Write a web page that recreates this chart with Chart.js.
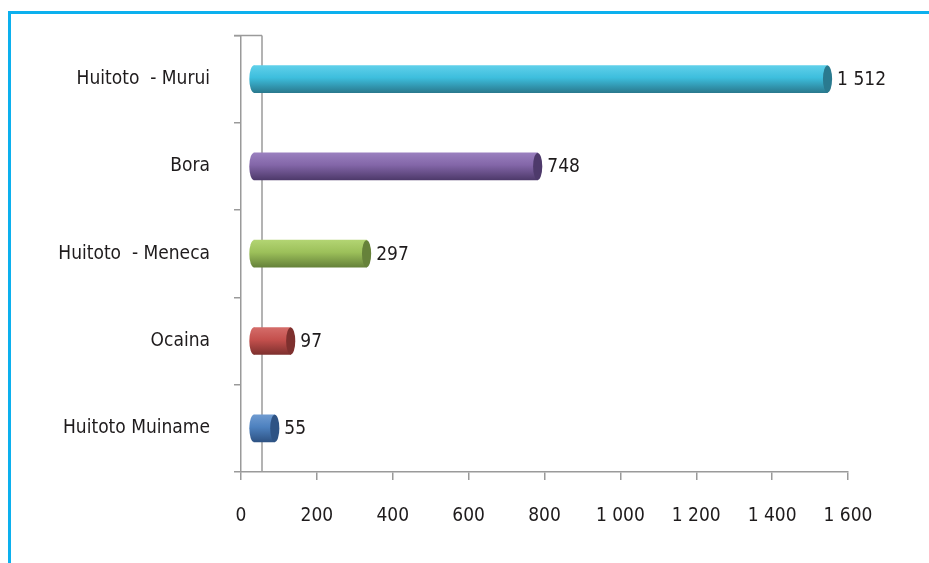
<!DOCTYPE html>
<html>
<head>
<meta charset="utf-8">
<script src="https://cdn.jsdelivr.net/npm/chart.js@4.4.1/dist/chart.umd.min.js"></script>
<style>
  html, body { margin: 0; padding: 0; background: #fff; overflow: hidden; }
  #wrap { position: relative; width: 929px; height: 563px; }
  #frame {
    position: absolute; left: 8px; top: 11px; width: 940px; height: 580px;
    border-top: 3px solid #0cb0ee; border-left: 3px solid #0cb0ee;
    pointer-events: none;
  }
  canvas { position: absolute; left: 0; top: 0; }
</style>
</head>
<body>
<div id="wrap">
  <div id="frame"></div>
  <canvas id="chart"></canvas>
</div>
<script>
// Data
const categories = ['Huitoto  - Murui', 'Bora', 'Huitoto  - Meneca', 'Ocaina', 'Huitoto Muiname'];
const speakers = [1512, 748, 297, 97, 55];
const xTicks = [0, 200, 400, 600, 800, 1000, 1200, 1400, 1600];

// Cylinder colours (light top, base, dark bottom / end cap)
const baseColors = ['#3dbedd', '#8366a8', '#9cc05a', '#c4504d', '#4d81bf'];
const lightColors = ['#5fd0ea', '#9a80bf', '#b2d472', '#d46c69', '#6e9ad0'];
const darkColors = ['#2a7a8f', '#4e3a6b', '#66823a', '#7e302e', '#2e5384'];

const barShift = 34;     // 3-D depth offset of the bars, in axis units
const wallDepth = 21;    // back wall offset in px
const fontFamily = '"DejaVu Sans Condensed", "Liberation Sans", sans-serif';

function spaced(v) {
    return String(v).replace(/\B(?=(\d{3})+(?!\d))/g, ' ');
}

// Back wall and floor edges of the 3-D plot box
const wallPlugin = {
    id: 'wall',
    beforeDatasetsDraw(chart) {
        const { ctx, chartArea } = chart;
        ctx.save();
        ctx.strokeStyle = '#9a9a9a';
        ctx.lineWidth = 1.5;
        ctx.beginPath();
        ctx.moveTo(chartArea.left + wallDepth, chartArea.top);
        ctx.lineTo(chartArea.left + wallDepth, chartArea.bottom);
        ctx.moveTo(chartArea.left - 7, chartArea.top);
        ctx.lineTo(chartArea.left + wallDepth, chartArea.top);
        ctx.stroke();
        ctx.restore();
    }
};

// End caps and value labels for the cylinders
const capPlugin = {
    id: 'caps',
    afterDatasetsDraw(chart) {
        const { ctx } = chart;
        const meta = chart.getDatasetMeta(0);
        ctx.save();
        meta.data.forEach((el, i) => {
            const p = el.getProps(['x', 'y', 'base', 'height'], true);
            const h = p.height;
            const rx = h * 0.17;
            // rounded left end
            const g = ctx.createLinearGradient(0, p.y - h / 2, 0, p.y + h / 2);
            g.addColorStop(0, lightColors[i]);
            g.addColorStop(0.45, baseColors[i]);
            g.addColorStop(1, darkColors[i]);
            ctx.fillStyle = g;
            ctx.beginPath();
            ctx.ellipse(p.base, p.y, rx, h / 2, 0, 0, Math.PI * 2);
            ctx.fill();
            // right end cap
            ctx.fillStyle = darkColors[i];
            ctx.beginPath();
            ctx.ellipse(p.x, p.y, rx, h / 2, 0, 0, Math.PI * 2);
            ctx.fill();
            // value label
            ctx.fillStyle = '#1e1b1c';
            ctx.font = '19px ' + fontFamily;
            ctx.textAlign = 'left';
            ctx.textBaseline = 'middle';
            ctx.fillText(spaced(speakers[i]), p.x + rx + 5, p.y + 1);
        });
        ctx.restore();
    }
};

const ctx = document.getElementById('chart').getContext('2d');
const chart = new Chart(ctx, {
    type: 'bar',
    data: {
        labels: categories,
        datasets: [{
            data: speakers,
            xAxisID: 'xBar',
            yAxisID: 'y',
            barThickness: 27,
            borderWidth: 0,
            backgroundColor: function(context) {
                const c = context.chart;
                const i = context.dataIndex;
                if (!c.chartArea || !c.scales.y) return baseColors[i];
                const yc = c.scales.y.getPixelForValue(i);
                const g = c.ctx.createLinearGradient(0, yc - 13.5, 0, yc + 13.5);
                g.addColorStop(0, lightColors[i]);
                g.addColorStop(0.45, baseColors[i]);
                g.addColorStop(1, darkColors[i]);
                return g;
            }
        }]
    },
    options: {
        indexAxis: 'y',
        responsive: true,
        maintainAspectRatio: false,
        animation: false,
        layout: {
            padding: { top: 35, right: 81, left: 0, bottom: 0 }
        },
        plugins: {
            legend: { display: false },
            tooltip: { enabled: false }
        },
        scales: {
            x: {
                type: 'linear',
                position: 'bottom',
                min: 0,
                max: 1600,
                afterFit(scale) { scale.height = 91; },
                afterBuildTicks(scale) { scale.ticks = xTicks.map(v => ({ value: v })); },
                grid: {
                    drawOnChartArea: false,
                    drawTicks: true,
                    tickLength: 8,
                    color: '#9a9a9a',
                    lineWidth: 1.5
                },
                border: { display: true, color: '#9a9a9a', width: 1.5 },
                ticks: {
                    padding: 25,
                    maxRotation: 0,
                    color: '#1e1b1c',
                    font: { family: fontFamily, size: 19 },
                    callback: v => spaced(v)
                }
            },
            xBar: {
                type: 'linear',
                display: false,
                min: -barShift,
                max: 1600 - barShift
            },
            y: {
                type: 'category',
                afterFit(scale) { scale.width = 241; },
                grid: {
                    drawOnChartArea: false,
                    offset: true,
                    tickLength: 7,
                    color: '#9a9a9a',
                    lineWidth: 1.5
                },
                border: { display: true, color: '#9a9a9a', width: 1.5 },
                ticks: {
                    padding: 24,
                    color: '#1e1b1c',
                    font: { family: fontFamily, size: 19 }
                }
            }
        }
    },
    plugins: [wallPlugin, capPlugin]
});
</script>
</body>
</html>
